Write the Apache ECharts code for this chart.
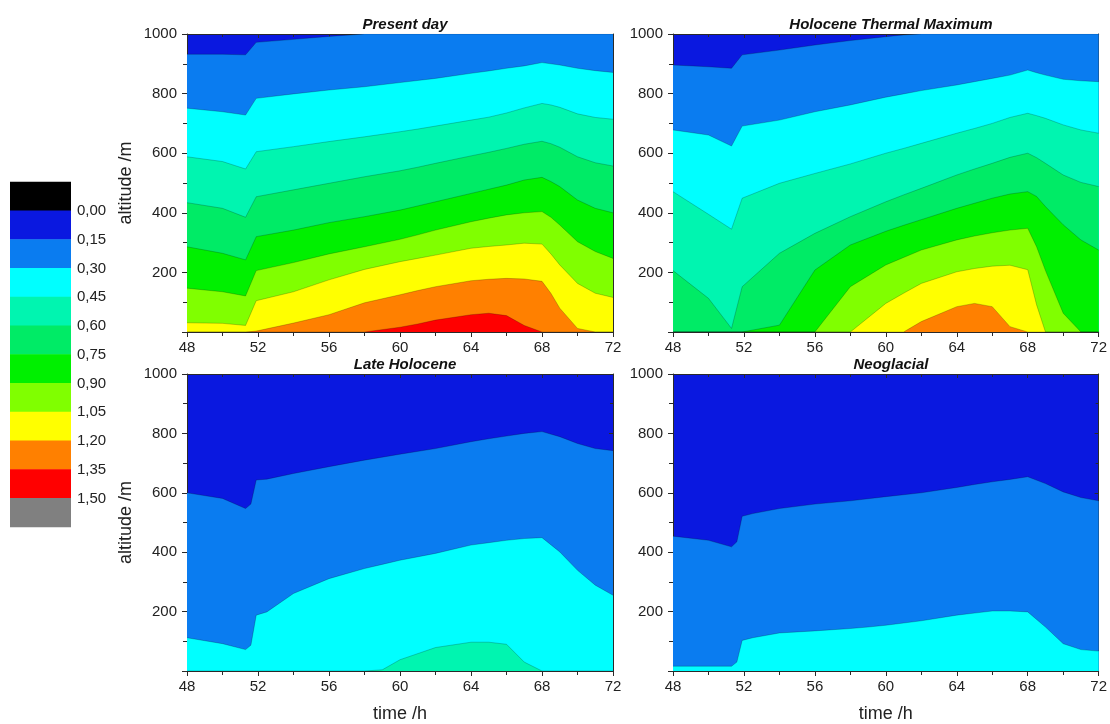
<!DOCTYPE html>
<html>
<head>
<meta charset="utf-8">
<script src="https://cdn.jsdelivr.net/npm/echarts@6/dist/echarts.min.js"></script>
<style>
html,body{margin:0;padding:0;background:#fff;}
#chart{width:1110px;height:724px;}
</style>
</head>
<body>
<div id="chart"></div>
<script>
// ---- data ----
var legendLabels = ['0,00','0,15','0,30','0,45','0,60','0,75','0,90','1,05','1,20','1,35','1,50'];
var legendColors = ['#000000','#0a18e0','#0a7cf0','#00ffff','#00f5b0','#00eb66','#00f000','#80ff00','#ffff00','#ff8000','#ff0000','#808080'];
var panelTitles = ['Present day','Holocene Thermal Maximum','Late Holocene','Neoglacial'];

// time samples (h)
var timeTop = [48,50,51.3,51.9,54,56,58,60,61,62,64,65,66,67,68,68.5,69,70,71,72];
var timeBottom = [48,50,51.3,51.6,51.9,52.5,54,56,58,59,60,62,64,65,66,67,68,69,70,71,72];

// contour altitudes (m) for each level; Present day
var pd015 = [932,932,930,972,982,992,1000,1000,1000,1000,1000,1000,1000,1000,1000,1000,1000,1000,1000,1000];
var pd030 = [751,739,728,784,799,812,823,837,844,851,868,876,885,893,904,900,896,885,877,871];
var pd045 = [588,572,547,605,622,639,655,672,681,691,711,721,735,752,767,762,754,732,720,714];
var pd060 = [434,415,385,454,477,499,521,541,553,566,591,603,616,630,640,632,620,588,568,557];
var pd075 = [286,264,242,320,342,367,387,409,423,437,465,479,493,510,519,505,488,443,415,400];
var pd090 = [147,135,121,206,233,262,286,311,326,342,370,382,393,400,404,385,359,303,270,247];
var pd105 = [31,29,22,105,135,175,210,236,247,258,281,287,292,298,295,262,225,163,130,116];
var pd120 = [0,0,0,3,30,58,98,125,139,152,172,177,180,178,170,130,80,12,0,0];
var pd135 = [0,0,0,0,0,0,0,16,27,40,58,63,55,22,0,0,0,0,0,0];

// Holocene Thermal Maximum
var htm015 = [896,890,885,930,946,963,978,991,997,1000,1000,1000,1000,1000,1000,1000,1000,1000,1000,1000];
var htm030 = [678,661,624,691,711,739,762,788,799,810,829,840,851,862,879,870,862,848,843,840];
var htm045 = [471,395,345,449,499,532,564,600,616,633,667,683,700,720,734,726,717,695,678,667];
var htm060 = [206,113,12,152,264,331,387,437,460,482,527,547,566,586,600,585,566,527,502,488];
var htm075 = [0,0,0,0,23,208,292,338,358,377,415,432,449,463,471,455,421,360,309,275];
var htm090 = [0,0,0,0,0,0,152,225,250,275,309,322,333,342,348,286,206,63,0,0];
var htm105 = [0,0,0,0,0,0,0,96,130,163,202,213,221,224,209,91,0,0,0,0];
var htm120 = [0,0,0,0,0,0,0,0,0,35,85,96,85,18,0,0,0,0,0,0];

// Late Holocene
var lh015 = [600,581,547,562,643,646,665,688,710,720,730,749,772,782,791,800,806,789,766,749,742];
var lh030 = [112,92,72,87,188,199,261,311,345,359,373,396,424,432,440,446,449,401,339,289,255];
var lh045 = [0,0,0,0,0,0,0,0,0,4,38,79,97,97,90,30,0,0,0,0,0];

// Neoglacial
var ng015 = [454,440,418,435,521,530,547,562,573,580,587,600,618,628,637,645,654,631,603,584,573];
var ng030 = [16,16,16,30,103,112,128,135,143,148,154,169,188,195,202,202,199,148,92,72,67];

// ---- build chart ----
var panels = [
  {time: timeTop, levels: [pd015,pd030,pd045,pd060,pd075,pd090,pd105,pd120,pd135]},
  {time: timeTop, levels: [htm015,htm030,htm045,htm060,htm075,htm090,htm105,htm120]},
  {time: timeBottom, levels: [lh015,lh030,lh045]},
  {time: timeBottom, levels: [ng015,ng030]}
];
var grids = [
  {left:187, top:34, width:426, height:298},
  {left:673, top:34, width:426, height:298},
  {left:187, top:374, width:426, height:297},
  {left:673, top:374, width:426, height:297}
];
var FONT = 'Liberation Sans, Arial, sans-serif';
var axisCol = '#2a2a2a';

var option = {
  animation: false,
  backgroundColor: '#ffffff',
  title: [],
  grid: [],
  xAxis: [],
  yAxis: [],
  series: [],
  graphic: []
};

grids.forEach(function(g, gi){
  option.grid.push({left:g.left, top:g.top, width:g.width, height:g.height, show:true,
    backgroundColor: legendColors[1], borderWidth:0});
  option.title.push({text: panelTitles[gi], left: g.left + g.width/2, top: g.top - 22, textAlign:'center',
    textStyle:{fontFamily:FONT, fontSize:15, fontWeight:'bold', fontStyle:'italic', color:'#111'}});
  var bottomRow = gi >= 2, leftCol = gi % 2 === 0;
  // bottom x axis
  option.xAxis.push({type:'value', gridIndex:gi, min:48, max:72, interval:4, position:'bottom',
    name: bottomRow ? 'time /h' : '', nameLocation:'middle', nameGap:34,
    nameTextStyle:{fontFamily:FONT, fontSize:18, color:'#222'},
    axisLine:{show:true, onZero:false, lineStyle:{color:axisCol, width:1}},
    axisTick:{show:true, inside:false, length:5, lineStyle:{color:axisCol}},
    minorTick:{show:true, splitNumber:2, length:4, lineStyle:{color:axisCol}},
    axisLabel:{fontFamily:FONT, fontSize:15, color:'#222', margin:8},
    splitLine:{show:false}});
  // top mirrored x axis
  option.xAxis.push({type:'value', gridIndex:gi, min:48, max:72, interval:4, position:'top',
    axisLine:{show:true, onZero:false, lineStyle:{color:axisCol, width:1}},
    axisTick:{show:true, inside:true, length:4, lineStyle:{color:axisCol}},
    minorTick:{show:true, splitNumber:2, length:3, lineStyle:{color:axisCol}},
    axisLabel:{show:false}, splitLine:{show:false}});
  // left y axis
  option.yAxis.push({type:'value', gridIndex:gi, min:0, max:1000, interval:200, position:'left',
    name: leftCol ? 'altitude /m' : '', nameLocation:'middle', nameGap:52, nameRotate:90,
    nameTextStyle:{fontFamily:FONT, fontSize:18, color:'#222'},
    axisLine:{show:true, onZero:false, lineStyle:{color:axisCol, width:1}},
    axisTick:{show:true, inside:false, length:5, lineStyle:{color:axisCol}},
    minorTick:{show:true, splitNumber:2, length:4, lineStyle:{color:axisCol}},
    axisLabel:{fontFamily:FONT, fontSize:15, color:'#222', margin:10, showMinLabel:false,
      formatter:function(v){ return v === 0 ? '' : String(v); }},
    splitLine:{show:false}});
  // right mirrored y axis
  option.yAxis.push({type:'value', gridIndex:gi, min:0, max:1000, interval:200, position:'right',
    axisLine:{show:true, onZero:false, lineStyle:{color:axisCol, width:1}},
    axisTick:{show:true, inside:true, length:4, lineStyle:{color:axisCol}},
    minorTick:{show:true, splitNumber:2, length:3, lineStyle:{color:axisCol}},
    axisLabel:{show:false}, splitLine:{show:false}});

  var p = panels[gi];
  p.levels.forEach(function(vals, li){
    option.series.push({
      type:'line', xAxisIndex: gi*2, yAxisIndex: gi*2, silent:true,
      symbol:'none', smooth:false, clip:true,
      data: p.time.map(function(t, i){ return [t, vals[i]]; }),
      lineStyle:{width:0.6, color:'rgba(0,0,0,0.35)'},
      areaStyle:{color: legendColors[li+2], opacity:1, origin:'start'}
    });
  });
});

// colour scale legend
var legTop = 181.7, legH = 28.75;
legendColors.forEach(function(c, i){
  option.graphic.push({type:'rect', left:10, top: legTop + i*legH,
    shape:{width:61, height:legH + 0.5}, style:{fill:c}, silent:true});
});
legendLabels.forEach(function(s, i){
  option.graphic.push({type:'text', left:77, top: legTop + (i+1)*legH - 7,
    style:{text:s, fill:'#222', font:'15px ' + FONT}, silent:true});
});

var chart = echarts.init(document.getElementById('chart'), null, {renderer:'canvas'});
chart.setOption(option);
</script>
</body>
</html>
